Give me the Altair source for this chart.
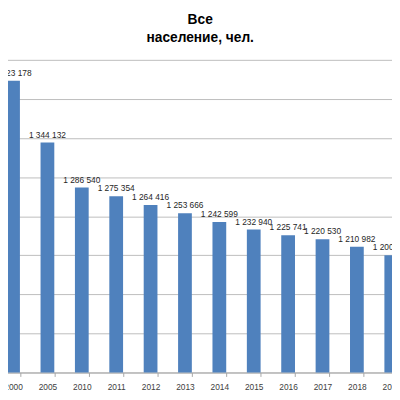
import pandas as pd
import altair as alt

# years and population values (2019 is cut off in the reference, estimated)
years = ["2000", "2005", "2010", "2011", "2012", "2013", "2014", "2015",
         "2016", "2017", "2018", "2019"]
population = [1423178, 1344132, 1286540, 1275354, 1264416, 1253666, 1242599,
              1232940, 1225741, 1220530, 1210982, 1200100]
grid_values = [1050000, 1100000, 1150000, 1200000, 1250000, 1300000,
               1350000, 1400000, 1450000]
title_lines = ["Все", "население, чел."]

df = pd.DataFrame({"year": years, "value": population})
df["label"] = [f"{v:,}".replace(",", " ") for v in population]
df["base"] = grid_values[0]

font = "Liberation Sans"

base = alt.Chart(df).encode(
    x=alt.X("year:N",
            sort=None,
            title=None,
            scale=alt.Scale(paddingInner=0.6, paddingOuter=0.3),
            axis=alt.Axis(labelAngle=0,
                          tickBand="extent",
                          tickSize=4,
                          tickColor="#a6a6a6",
                          domainColor="#a6a6a6",
                          labelColor="#404040",
                          labelFont=font,
                          labelFontSize=8.5,
                          labelPadding=6,
                          grid=False)),
    y=alt.Y("value:Q",
            title=None,
            scale=alt.Scale(domain=[grid_values[0], grid_values[-1]], zero=False, nice=False),
            axis=alt.Axis(values=grid_values,
                          labels=False,
                          ticks=False,
                          domain=False,
                          gridColor="#bcbcbc",
                          gridWidth=1))
)

bars = base.mark_bar(color="#4f81bd").encode(
    y2="base:Q"
)

text = base.mark_text(
    baseline="bottom",
    align="center",
    dy=-3,
    font=font,
    fontSize=8.5,
    color="#262626"
).encode(
    text="label:N"
)

chart = (bars + text).properties(
    width=421,
    height=319,
    padding={"left": -12.4, "top": 49, "right": -16.8, "bottom": 16},
    autosize=alt.AutoSizeParams(type="none"),
    title=alt.Title(title_lines,
                    font=font,
                    fontSize=14,
                    fontWeight="bold",
                    color="#000000",
                    lineHeight=19,
                    anchor="middle",
                    dx=-2,
                    offset=15)
).configure_view(
    strokeWidth=0
)

chart.save("out.html", embed_options={"renderer": "svg", "actions": False})
